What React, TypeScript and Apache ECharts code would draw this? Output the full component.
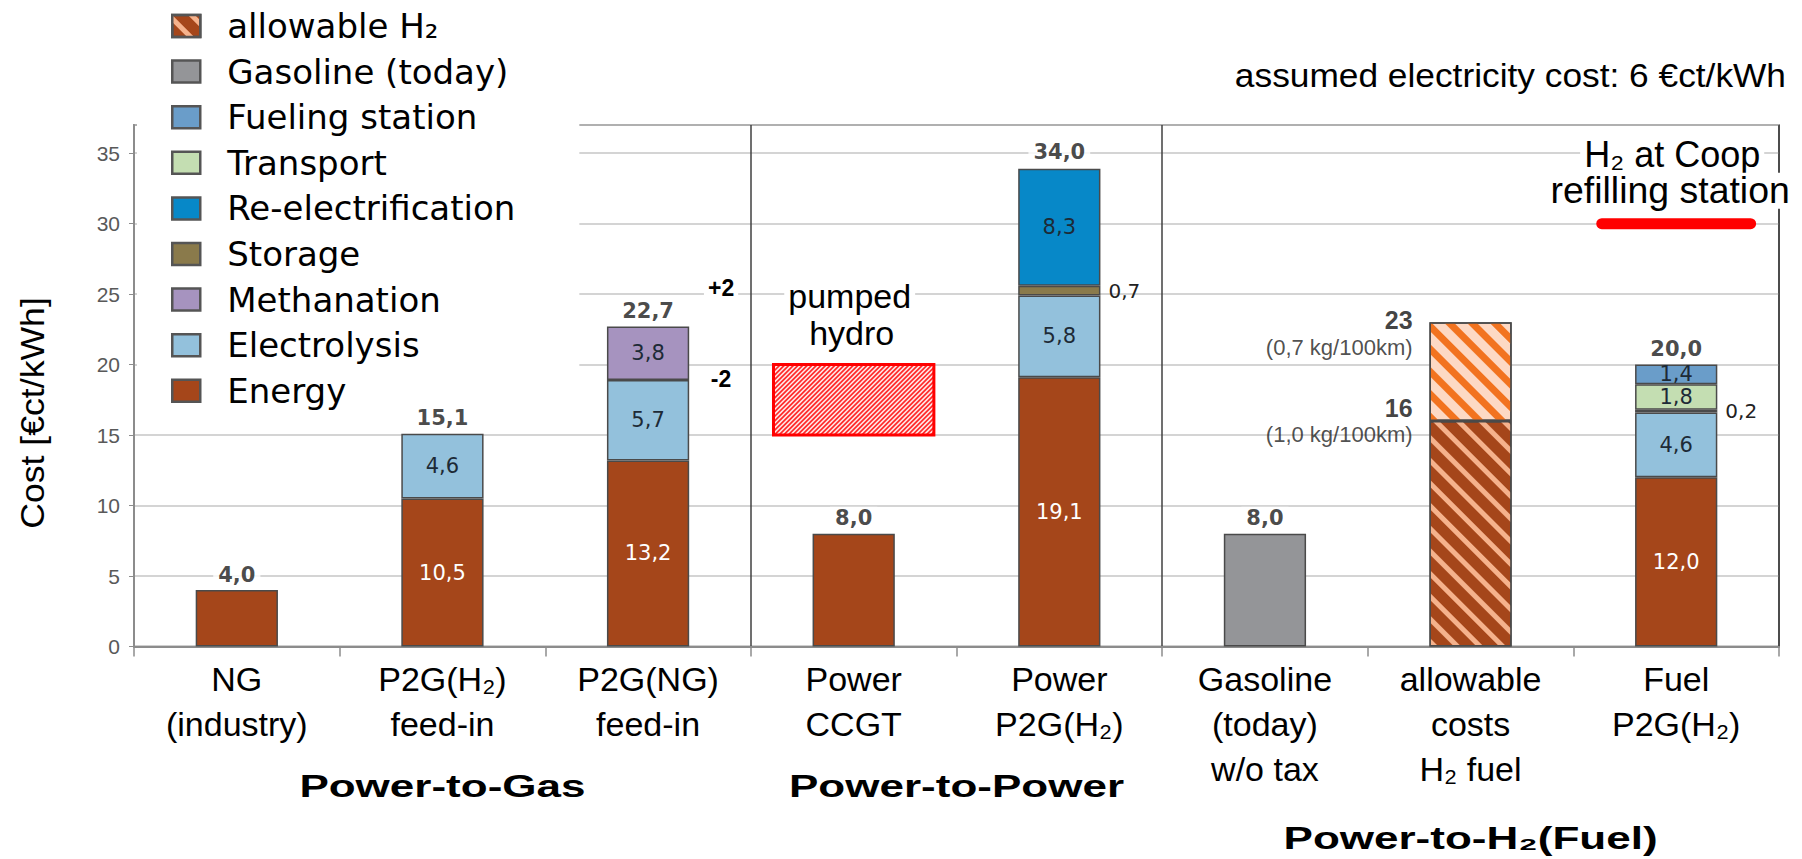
import React, { useEffect, useRef } from 'react';
import * as echarts from 'echarts';

// ---------- data ----------
const categories = [
  'NG\n(industry)',
  'P2G(H₂)\nfeed-in',
  'P2G(NG)\nfeed-in',
  'Power\nCCGT',
  'Power\nP2G(H₂)',
  'Gasoline\n(today)\nw/o tax',
  'allowable\ncosts\nH₂ fuel',
  'Fuel\nP2G(H₂)',
];
const energy = [4.0, 10.5, 13.2, 8.0, 19.1, null, null, 12.0];
const electrolysis = [null, 4.6, 5.7, null, 5.8, null, null, 4.6];
const methanation = [null, null, 3.8, null, null, null, null, null];
const storage = [null, null, null, null, 0.7, null, null, 0.2];
const reElectrification = [null, null, null, null, 8.3, null, null, null];
const transport = [null, null, null, null, null, null, null, 1.8];
const fuelingStation = [null, null, null, null, null, null, null, 1.4];
const gasolineToday = [null, null, null, null, null, 8.0, null, null];
const allowableH2Base = [null, null, null, null, null, null, 16, null];
const allowableH2Extra = [null, null, null, null, null, null, 7, null];
const totals = [4.0, 15.1, 22.7, 8.0, 34.0, 8.0, null, 20.0];
const allowableMarks = [
  { category: 6, value: 23, title: '23', note: '(0,7 kg/100km)' },
  { category: 6, value: 16, title: '16', note: '(1,0 kg/100km)' },
];
const pumpedHydroRange = [3, 15, 20]; // category, low, high
const coopRefilling = [7, 30]; // category, cost
const p2gNgSpread = 2;
const yMin = 0;
const yMax = 37;
const yInterval = 5;
const separatorsBefore = [3, 5];
const groups = [
  { name: 'Power-to-Gas', from: 0, to: 2, row: 0 },
  { name: 'Power-to-Power', from: 3, to: 4, row: 0 },
  { name: 'Power-to-H₂(Fuel)', from: 5, to: 7, row: 1 },
];
const legendOrder = [
  'allowable H₂',
  'Gasoline (today)',
  'Fueling station',
  'Transport',
  'Re-electrification',
  'Storage',
  'Methanation',
  'Electrolysis',
  'Energy',
];

const fmt = (v: number) => Number(v).toFixed(1).replace('.', ',');

export default function App() {
  const ref = useRef<HTMLDivElement>(null);

  useEffect(() => {
    const el = ref.current!;
    const chart = echarts.init(el, null, { renderer: 'svg' });

    const border = { borderColor: '#4a4a4a', borderWidth: 1.5 };
    const inside = (color: string, show?: (i: number) => boolean) => ({
      show: true,
      position: 'inside',
      color,
      fontFamily: 'DejaVu Sans',
      fontSize: 21,
      formatter: (p: any) =>
        p.value == null || (show && !show(p.dataIndex)) ? '' : fmt(p.value),
    });
    const seg = (name: string, data: any[], color: string, label: any, extra: any = {}) => ({
      name,
      type: 'bar',
      stack: 'cost',
      data,
      barWidth: '40%',
      itemStyle: { color, ...border },
      label,
      ...extra,
    });

    const option: any = {
      animation: false,
      backgroundColor: '#ffffff',
      grid: {
        left: 134,
        right: 23,
        top: 125,
        bottom: 212.5,
        show: true,
        borderColor: '#404040',
        borderWidth: 1.5,
        backgroundColor: 'transparent',
      },
      legend: {
        orient: 'vertical',
        left: 137,
        top: 0,
        padding: [8, 64, 0, 34],
        backgroundColor: '#ffffff',
        itemWidth: 28,
        itemHeight: 22,
        itemGap: 9.6,
        icon: 'rect',
        selectedMode: false,
        data: legendOrder,
        itemStyle: { borderColor: '#555555', borderWidth: 2.5 },
        textStyle: {
          fontFamily: 'DejaVu Sans',
          fontSize: 34,
          lineHeight: 36,
          color: '#000000',
          padding: [0, 0, 0, 22],
        },
      },
      xAxis: {
        type: 'category',
        data: categories,
        axisLine: { lineStyle: { color: '#8c8c8c', width: 2 } },
        axisTick: { show: true, length: 10, interval: 0, lineStyle: { color: '#8c8c8c', width: 1.5 } },
        axisLabel: {
          interval: 0,
          margin: 10,
          color: '#000000',
          fontFamily: 'Liberation Sans',
          fontSize: 34,
          lineHeight: 45,
        },
        splitLine: {
          show: true,
          interval: (index: number) => separatorsBefore.includes(index),
          lineStyle: { color: '#404040', width: 1.5 },
        },
      },
      yAxis: {
        type: 'value',
        min: yMin,
        max: yMax,
        interval: yInterval,
        axisLine: { show: true, lineStyle: { color: '#8c8c8c', width: 2 } },
        axisTick: { show: true, length: 5, lineStyle: { color: '#8c8c8c' } },
        axisLabel: {
          showMaxLabel: false,
          margin: 14,
          color: '#595959',
          fontFamily: 'Liberation Sans',
          fontSize: 21,
        },
        splitLine: { show: true, lineStyle: { color: '#c6c6c6', width: 1.5 } },
      },
      series: [
        seg('Energy', energy, '#A5461A', inside('#ffffff', (i) => electrolysis[i] != null)),
        seg('Electrolysis', electrolysis, '#93C1DC', inside('#1d2a36')),
        seg('Methanation', methanation, '#A693BF', inside('#1d2a36')),
        seg('Storage', storage, '#8A7A4B', {
          show: true,
          position: 'right',
          distance: 8,
          color: '#222222',
          fontFamily: 'DejaVu Sans',
          fontSize: 20,
          formatter: (p: any) => (p.value == null ? '' : fmt(p.value)),
        }),
        seg('Re-electrification', reElectrification, '#0788C8', inside('#1d2a36')),
        seg('Transport', transport, '#C4DEB2', inside('#1d2a36')),
        seg('Fueling station', fuelingStation, '#6A9DC9', inside('#1d2a36')),
        seg('Gasoline (today)', gasolineToday, '#949598', { show: false }),
        seg('allowable H₂', allowableH2Base, '#A5461A', { show: false }, {
          itemStyle: {
            color: '#A5461A',
            ...border,
            decal: {
              symbol: 'rect',
              symbolSize: 1,
              dashArrayX: [1, 0],
              dashArrayY: [5, 11],
              rotation: Math.PI / 4,
              color: '#F5B28C',
            },
          },
        }),
        seg('allowable H₂ (range)', allowableH2Extra, '#FDD9C4', { show: false }, {
          itemStyle: {
            color: '#FDD9C4',
            ...border,
            decal: {
              symbol: 'rect',
              symbolSize: 1,
              dashArrayX: [1, 0],
              dashArrayY: [6.5, 9],
              rotation: Math.PI / 4,
              color: '#F2731F',
            },
          },
        }),
        {
          name: 'pumped hydro',
          type: 'custom',
          data: [pumpedHydroRange],
          z: 3,
          renderItem: (params: any, api: any) => {
            const c = api.value(0);
            const lo = api.value(1);
            const hi = api.value(2);
            const top = api.coord([c, hi]);
            const bot = api.coord([c, lo]);
            const bw = api.size([1, 0], [c, lo])[0];
            const w = bw * 0.78;
            const x0 = top[0] - w / 2;
            const x1 = top[0] + w / 2;
            const y0 = top[1];
            const y1 = bot[1];
            const children: any[] = [
              { type: 'rect', shape: { x: x0, y: y0, width: w, height: y1 - y0 }, style: { fill: '#ffecec' } },
            ];
            const step = 4.6;
            for (let k = x0 + y0 + step / 2; k < x1 + y1; k += step) {
              const xa = Math.max(x0, k - y1);
              const xb = Math.min(x1, k - y0);
              if (xb <= xa) continue;
              children.push({
                type: 'line',
                shape: { x1: xa, y1: k - xa, x2: xb, y2: k - xb },
                style: { stroke: '#ff2a2a', lineWidth: 1.7 },
              });
            }
            children.push({
              type: 'rect',
              shape: { x: x0, y: y0, width: w, height: y1 - y0 },
              style: { fill: 'none', stroke: '#ff0000', lineWidth: 3 },
            });
            return { type: 'group', children };
          },
        },
        {
          name: 'H₂ at Coop',
          type: 'custom',
          data: [coopRefilling],
          z: 3,
          renderItem: (params: any, api: any) => {
            const c = api.value(0);
            const v = api.value(1);
            const p = api.coord([c, v]);
            const bw = api.size([1, 0], [c, v])[0];
            const half = (bw * 0.724) / 2;
            return {
              type: 'line',
              shape: { x1: p[0] - half, y1: p[1], x2: p[0] + half, y2: p[1] },
              style: { stroke: '#ff0000', lineWidth: 11, lineCap: 'round' },
            };
          },
        },
        {
          name: 'total',
          type: 'scatter',
          symbolSize: 0,
          z: 5,
          data: totals
            .map((v, i) => (v == null ? null : [i, v]))
            .filter((d) => d != null),
          label: {
            show: true,
            position: 'top',
            distance: 4,
            formatter: (p: any) => fmt(p.value[1]),
            fontFamily: 'DejaVu Sans',
            fontWeight: 'bold',
            fontSize: 21,
            color: '#1a1a1a',
            backgroundColor: '#ffffff',
            padding: [1, 5],
          },
        },
        {
          name: 'allowable marks',
          type: 'scatter',
          symbolSize: 0,
          z: 5,
          data: allowableMarks.map((m, i) => ({
            value: [m.category, m.value],
            label: {
              formatter: `{t|${m.title}}\n{n|${m.note}}`,
              offset: [0, i === 0 ? 11 : 0],
            },
          })),
          label: {
            show: true,
            position: 'left',
            distance: 58,
            align: 'right',
            rich: {
              t: {
                fontFamily: 'Liberation Sans',
                fontWeight: 'bold',
                fontSize: 25,
                lineHeight: 28,
                color: '#111111',
                align: 'right',
              },
              n: {
                fontFamily: 'Liberation Sans',
                fontSize: 22,
                lineHeight: 26,
                color: '#222222',
                align: 'right',
              },
            },
          },
        },
      ],
    };

    chart.setOption(option);

    const toPx = (c: number, v: number) =>
      chart.convertToPixel({ xAxisIndex: 0, yAxisIndex: 0 }, [c, v]) as number[];

    const txt = (
      text: string,
      x: number,
      y: number,
      s: any = {},
      extra: any = {}
    ) => ({
      type: 'text',
      x,
      y,
      z: 50,
      ...extra,
      style: {
        text,
        fill: '#000000',
        fontFamily: 'Liberation Sans',
        fontSize: 34,
        align: 'center',
        verticalAlign: 'middle',
        ...s,
      },
    });

    const graphics: any[] = [];
    // top-right note
    graphics.push(txt('assumed electricity cost: 6 €ct/kWh', 1786, 75, { align: 'right', fontSize: 33 }, { scaleX: 1.07 }));
    // y axis title
    graphics.push(txt('Cost [€ct/kWh]', 32, 413, { fontSize: 33 }, { rotation: Math.PI / 2, scaleX: 1.08 }));
    // group titles
    groups.forEach((g) => {
      const a = toPx(g.from, 0);
      const b = toPx(g.to, 0);
      graphics.push(
        txt(g.name, (a[0] + b[0]) / 2, g.row === 0 ? 786 : 838, { fontWeight: 'bold', fontSize: 31 }, { scaleX: 1.42 })
      );
    });
    // pumped hydro
    const ph = toPx(pumpedHydroRange[0], pumpedHydroRange[2]);
    graphics.push(txt('pumped', ph[0] - 4, ph[1] - 69, { backgroundColor: '#ffffff', padding: [0, 4] }));
    graphics.push(txt('hydro', ph[0] - 2, ph[1] - 32, { backgroundColor: '#ffffff', padding: [0, 4] }));
    // +2 / -2 around P2G(NG)
    const up = toPx(2, (totals[2] as number) + p2gNgSpread);
    const dn = toPx(2, (totals[2] as number) - p2gNgSpread);
    graphics.push(txt('+2', up[0] + 73, up[1] - 10, { fontWeight: 'bold', fontSize: 23, backgroundColor: '#ffffff', padding: [0, 4] }));
    graphics.push(txt('-2', dn[0] + 73, dn[1] + 24, { fontWeight: 'bold', fontSize: 23, backgroundColor: '#ffffff', padding: [0, 4] }));
    // coop annotation
    const cp = toPx(coopRefilling[0], coopRefilling[1]);
    graphics.push(txt('H₂ at Coop', cp[0] - 4, cp[1] - 69, { fontSize: 36, backgroundColor: '#ffffff', padding: [0, 4] }));
    graphics.push(txt('refilling station', cp[0] - 6, cp[1] - 33, { fontSize: 36, backgroundColor: '#ffffff', padding: [0, 4] }, { scaleX: 1.04 }));

    chart.setOption({ graphic: graphics });

    return () => {
      chart.dispose();
    };
  }, []);

  return (
    <div
      ref={ref}
      style={{ position: 'fixed', left: 0, top: 0, width: 1802, height: 859, background: '#ffffff' }}
    />
  );
}
